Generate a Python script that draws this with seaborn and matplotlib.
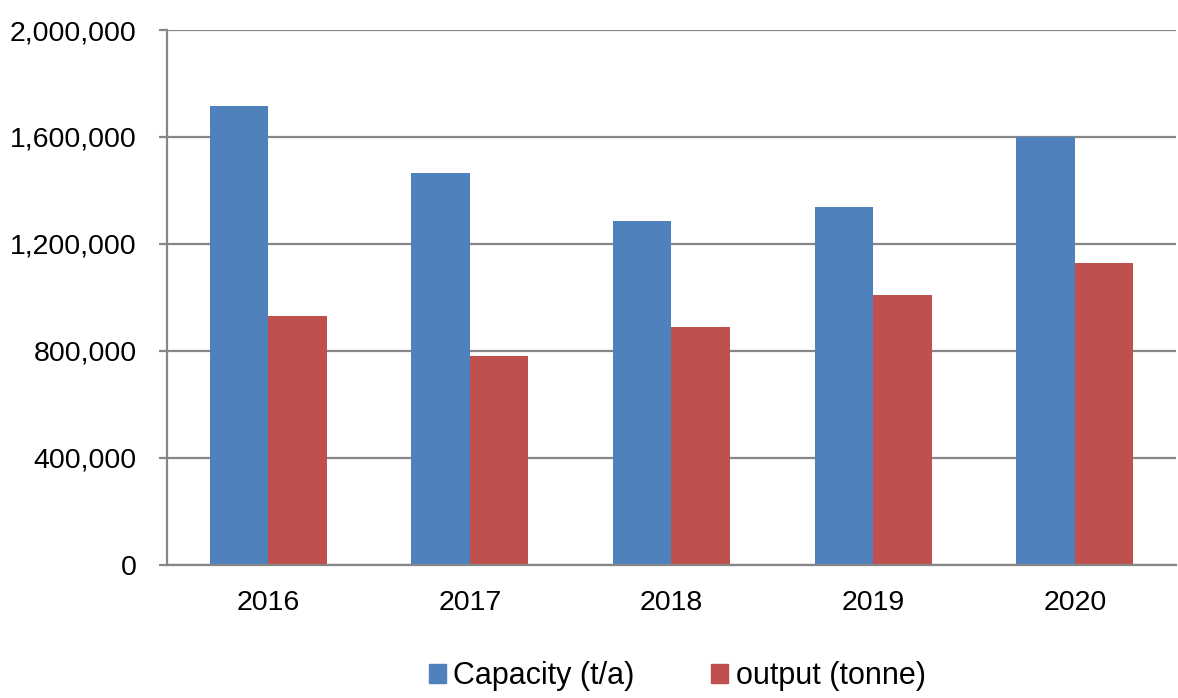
import pandas as pd
import numpy as np
import matplotlib.pyplot as plt
import seaborn as sns
from matplotlib.ticker import FuncFormatter, FixedLocator

years = ["2016", "2017", "2018", "2019", "2020"]
capacity = [1716000, 1465000, 1286000, 1337000, 1600000]
output = [930000, 780000, 890000, 1009000, 1128000]
series_names = ["Capacity (t/a)", "output (tonne)"]
colors = ["#4F81BD", "#C0504D"]

df = pd.DataFrame({
    "year": years * 2,
    "value": capacity + output,
    "series": [series_names[0]] * len(years) + [series_names[1]] * len(years),
})

sns.set_style("white")
plt.rcParams["font.family"] = ["Liberation Sans", "DejaVu Sans"]
plt.rcParams["text.color"] = "black"
plt.rcParams["xtick.labelcolor"] = "black"
plt.rcParams["ytick.labelcolor"] = "black"

fig = plt.figure(figsize=(11.78, 6.98), dpi=100)
ax = fig.add_axes([0.142, 0.191, 0.856, 0.766])

sns.barplot(data=df, x="year", y="value", hue="series", palette=colors,
            width=0.58, saturation=1, linewidth=0, ax=ax, legend=False)

grid_c = "#868686"
ax.set_ylim(0, 2000000)
ax.set_xlim(-0.5, len(years) - 0.5)
ax.set_yticks(np.arange(0, 2000001, 400000))
ax.yaxis.set_major_formatter(FuncFormatter(lambda v, p: f"{int(v):,}"))
ax.yaxis.grid(True, color=grid_c, linewidth=1.6)
ax.set_axisbelow(True)
ax.set_xlabel("")
ax.set_ylabel("")

for s in ["top", "right"]:
    ax.spines[s].set_visible(False)
for s in ["left", "bottom"]:
    ax.spines[s].set_color(grid_c)
    ax.spines[s].set_linewidth(1.6)

ax.xaxis.set_minor_locator(FixedLocator(np.arange(-0.5, len(years), 1.0)))
ax.tick_params(axis="x", which="major", length=0, pad=18, labelsize=20.5)
ax.tick_params(axis="x", which="minor", length=6, width=1.6, color=grid_c, direction="out")
ax.tick_params(axis="y", which="major", length=6, width=1.6, color=grid_c,
               direction="out", pad=16, labelsize=20.5, left=True)

handles = [plt.Rectangle((0, 0), 1, 1, color=c) for c in colors]
fig.legend(handles, series_names, loc="lower center", bbox_to_anchor=(0.575, -0.03),
           ncol=2, frameon=False, fontsize=22, handlelength=0.55, handleheight=0.6,
           handletextpad=0.25, columnspacing=2.5)

fig.savefig("out.png", dpi=100)
